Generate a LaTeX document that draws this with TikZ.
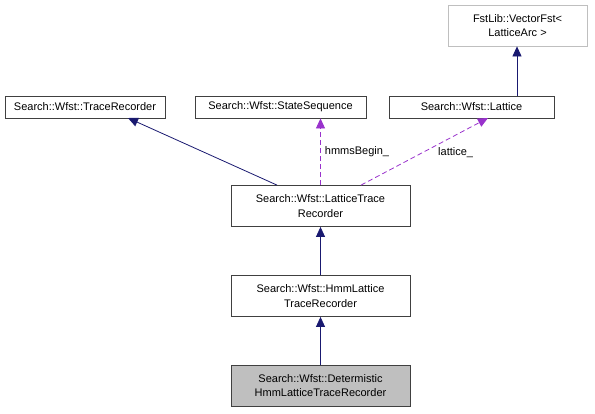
\documentclass[tikz,border=0pt]{standalone}
\usepackage{fontspec}
\setmainfont{Liberation Sans}
\usetikzlibrary{arrows.meta}
\definecolor{edgeblue}{RGB}{25,25,112}
\definecolor{edgepurple}{RGB}{153,50,204}
\definecolor{boxgray}{RGB}{191,191,191}
\begin{document}
\begin{tikzpicture}[x=1pt,y=-1pt,
  cls/.style={draw=black!75, line width=0.8pt, fill=white, inner sep=0pt, align=center, font=\fontsize{11}{14.5}\selectfont},
  inh/.style={draw=edgeblue, line width=0.8pt, -{Triangle[length=10pt,width=9pt]}},
  use/.style={draw=edgepurple, line width=0.8pt, dash pattern=on 5pt off 3pt, -{Triangle[length=10pt,width=9pt]}},
  lbl/.style={font=\fontsize{11}{14.5}\selectfont, inner sep=0pt}]
\useasboundingbox (0,0) rectangle (595,413);
\node[cls, draw=boxgray, minimum width=139pt, minimum height=41pt] (fst) at (517.5,25.5) {FstLib::VectorFst\textless\\LatticeArc \textgreater};
\node[cls, minimum width=160pt, minimum height=22pt] (tr) at (85,107) {Search::Wfst::TraceRecorder};
\node[cls, minimum width=171pt, minimum height=22pt] (ss) at (280.5,107) {Search::Wfst::StateSequence};
\node[cls, minimum width=165pt, minimum height=22pt] (lat) at (471.5,107) {Search::Wfst::Lattice};
\node[cls, minimum width=179pt, minimum height=41pt] (ltr) at (320.5,206) {Search::Wfst::LatticeTrace\\Recorder};
\node[cls, minimum width=179pt, minimum height=41pt] (hltr) at (320.5,296) {Search::Wfst::HmmLattice\\TraceRecorder};
\node[cls, fill=boxgray, minimum width=179pt, minimum height=41pt] (dhltr) at (320.5,385.5) {Search::Wfst::Determistic\\HmmLatticeTraceRecorder};
\coordinate (latTop) at (517,96);
\draw[inh] (latTop) -- (fst.south -| latTop);
\draw[inh] (ltr.north -| 277,0) -- (128,118);
\draw[use] (ltr.north) -- node[lbl, right=4pt, pos=0.5] {hmmsBegin\_} (ss.south -| ltr.north);
\draw[use] (ltr.north -| 361,0) -- (488,118);
\node[lbl, anchor=west] (latlbl) at (438,153) {lattice\_};
\draw[inh] (hltr.north) -- (ltr.south);
\draw[inh] (dhltr.north) -- (hltr.south);
\end{tikzpicture}
\end{document}
